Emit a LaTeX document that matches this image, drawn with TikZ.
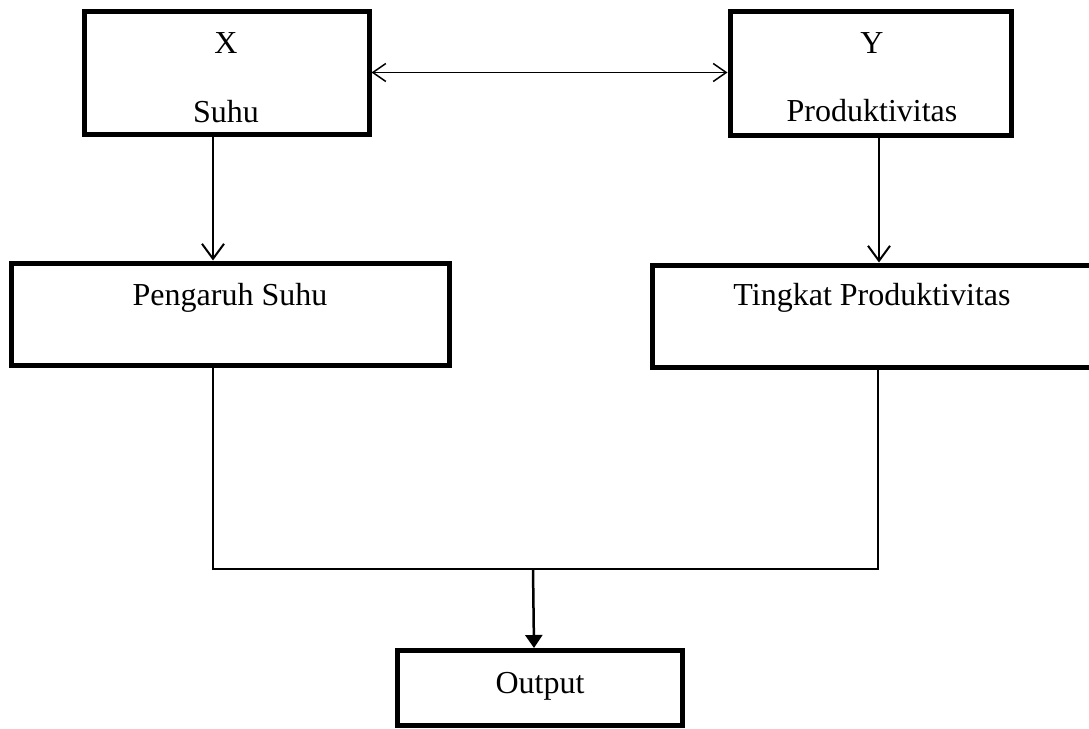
\documentclass[tikz,border=0pt]{standalone}
\usepackage{fontspec}
\setmainfont{Liberation Serif}
\usetikzlibrary{arrows.meta}
\begin{document}
\begin{tikzpicture}[x=1pt,y=-1pt,
  box/.style={draw=black,line width=5pt,rectangle,inner sep=0pt},
  lbl/.style={anchor=base,inner sep=0pt,font=\fontsize{32}{38}\selectfont},
  arr/.style={line width=2pt,-{Straight Barb[length=15pt,width=22pt,line width=2pt]}},
  dbl/.style={line width=1.5pt,{Straight Barb[length=13pt,width=18pt,line width=1.5pt]}-{Straight Barb[length=13pt,width=18pt,line width=1.5pt]}},
  wire/.style={line width=1.5pt},
  farr/.style={line width=2.5pt,-{Triangle[length=13pt,width=17pt]}}]
\useasboundingbox (0,0) rectangle (1089,728);
% boxes
\node[box,minimum width=285pt,minimum height=123pt] (X) at (226.5,72.5) {};
\node[box,minimum width=281pt,minimum height=124pt] (Y) at (870.5,73) {};
\node[box,minimum width=438pt,minimum height=102pt] (P) at (230,314) {};
\node[box,minimum width=440pt,minimum height=102pt] (T) at (872,316) {};
\node[box,minimum width=285pt,minimum height=75pt] (O) at (539.5,688) {};
% labels
\node[lbl] (xl) at (226,53) {X};
\node[lbl] (sl) at (226,122) {Suhu};
\node[lbl] (yl) at (872,53) {Y};
\node[lbl] (pl) at (872,121) {Produktivitas};
\node[lbl] (psl) at (230,305) {Pengaruh Suhu};
\node[lbl] (tpl) at (872,305) {Tingkat Produktivitas};
\node[lbl] (ol) at (540,693) {Output};
% connectors
\draw[dbl] (X.east) -- (Y.west |- X.east);
\draw[arr] ([xshift=-13.5pt]X.south) -- ([xshift=-17pt]P.north);
\draw[arr] ([xshift=8.5pt]Y.south) -- ([xshift=7pt]T.north);
\coordinate (M) at (533,569);
\draw[wire] ([xshift=-17pt]P.south) |- (M) -| ([xshift=6pt]T.south);
\draw[farr] (M) -- ([xshift=-5.5pt]O.north);
\end{tikzpicture}
\end{document}
